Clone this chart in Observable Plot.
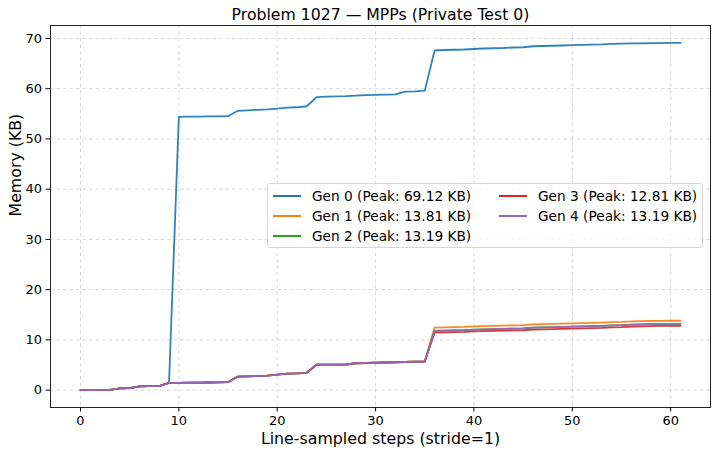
<!DOCTYPE html>
<html><head><meta charset="utf-8">
<script src="https://cdn.jsdelivr.net/npm/d3@7"></script>
<script src="https://cdn.jsdelivr.net/npm/@observablehq/plot@0.6"></script>
<style>
body{margin:0;background:#fff;font-family:"DejaVu Sans",sans-serif;}
#wrap{position:relative;width:718px;height:454px;overflow:hidden;}
#legend{position:absolute;left:267px;top:183px;width:436px;height:65px;border:1px solid #d6d6d6;border-radius:3px;background:rgba(255,255,255,0.8);box-sizing:border-box;}
.item{position:absolute;height:18px;line-height:18px;font-size:13.7px;color:#000;white-space:nowrap;}
.sw{position:absolute;left:0;top:8px;width:28px;height:2px;}
.lt{position:absolute;left:39px;top:0;}
</style>
</head><body>
<div id="wrap"><div id="chart"></div><div id="legend"></div></div>
<script>
const title = "Problem 1027 — MPPs (Private Test 0)";
const xLabel = "Line-sampled steps (stride=1)";
const yLabel = "Memory (KB)";
const gens = ["Gen 0", "Gen 1", "Gen 2", "Gen 3", "Gen 4"];
const peaks = [69.12, 13.81, 13.19, 12.81, 13.19];
const colors = ["#1f77b4", "#ff7f0e", "#2ca02c", "#d62728", "#9467bd"];
const xTicks = [0, 10, 20, 30, 40, 50, 60];
const yTicks = [0, 10, 20, 30, 40, 50, 60, 70];
const steps = [0,1,2,3,4,5,6,7,8,9,10,11,12,13,14,15,16,17,18,19,20,21,22,23,24,25,26,27,28,29,30,31,32,33,34,35,36,37,38,39,40,41,42,43,44,45,46,47,48,49,50,51,52,53,54,55,56,57,58,59,60,61];
const gen0 = [0,0.03,0.05,0.07,0.35,0.4,0.75,0.78,0.8,1.45,
  54.4,54.42,54.45,54.47,54.5,54.52,55.6,55.7,55.8,55.9,56.05,56.25,56.3,56.5,58.3,58.4,58.45,58.5,58.6,58.7,58.75,58.8,58.85,59.4,59.45,59.6,
  67.6,67.7,67.75,67.8,67.9,68.0,68.05,68.1,68.2,68.25,68.45,68.5,68.55,68.6,68.65,68.7,68.75,68.8,68.9,68.95,69.0,69.02,69.05,69.08,69.1,69.12];
const gen1 = [0,0.03,0.05,0.07,0.35,0.4,0.75,0.78,0.8,1.45,
  1.45,1.48,1.5,1.52,1.55,1.58,2.7,2.75,2.8,2.9,3.1,3.3,3.35,3.45,5.05,5.07,5.08,5.1,5.35,5.4,5.45,5.5,5.55,5.6,5.65,5.7,
  12.45,12.5,12.55,12.6,12.7,12.75,12.8,12.85,12.9,12.92,13.1,13.15,13.2,13.25,13.3,13.35,13.4,13.45,13.55,13.6,13.7,13.75,13.78,13.8,13.81,13.81];
const gen2 = [0,0.03,0.05,0.07,0.35,0.4,0.75,0.78,0.8,1.45,
  1.45,1.48,1.5,1.52,1.55,1.58,2.7,2.75,2.8,2.9,3.1,3.3,3.35,3.45,5.05,5.07,5.08,5.1,5.35,5.4,5.45,5.5,5.55,5.6,5.65,5.7,
  11.8,11.85,11.9,11.95,12.05,12.1,12.15,12.2,12.25,12.28,12.45,12.5,12.55,12.6,12.65,12.7,12.75,12.8,12.9,12.95,13.05,13.1,13.15,13.17,13.19,13.19];
const gen3 = [0,0.03,0.05,0.07,0.35,0.4,0.75,0.78,0.8,1.45,
  1.45,1.48,1.5,1.52,1.55,1.58,2.7,2.75,2.8,2.9,3.1,3.3,3.35,3.45,5.05,5.07,5.08,5.1,5.35,5.4,5.45,5.5,5.55,5.6,5.65,5.7,
  11.45,11.5,11.55,11.6,11.7,11.75,11.8,11.85,11.9,11.92,12.05,12.1,12.15,12.2,12.25,12.3,12.35,12.4,12.5,12.55,12.65,12.7,12.75,12.78,12.8,12.81];
const gen4 = [0,0.03,0.05,0.07,0.35,0.4,0.75,0.78,0.8,1.45,
  1.45,1.48,1.5,1.52,1.55,1.58,2.7,2.75,2.8,2.9,3.1,3.3,3.35,3.45,5.05,5.07,5.08,5.1,5.35,5.4,5.45,5.5,5.55,5.6,5.65,5.7,
  11.8,11.85,11.9,11.95,12.05,12.1,12.15,12.2,12.25,12.28,12.45,12.5,12.55,12.6,12.65,12.7,12.75,12.8,12.9,12.95,13.05,13.1,13.15,13.17,13.19,13.19];

const series = [gen0, gen1, gen2, gen3, gen4];
const rows = [];
series.forEach((vals, gi) => vals.forEach((v, i) => rows.push({step: steps[i], mem: v, gen: gens[gi]})));

const font = "DejaVu Sans";
const chart = Plot.plot({
  width: 718, height: 454,
  marginLeft: 50, marginRight: 8, marginTop: 25, marginBottom: 47,
  style: {fontFamily: font, fontSize: "13px", background: "#fff", color: "#000"},
  x: {domain: [-3.05, 64.05], ticks: xTicks, label: null},
  y: {domain: [-3.456, 72.576], ticks: yTicks, label: null},
  color: {domain: gens, range: colors},
  marks: [
    Plot.gridX(xTicks, {stroke: "#b0b0b0", strokeOpacity: 0.55, strokeDasharray: "3.5,3", strokeWidth: 0.9}),
    Plot.gridY(yTicks, {stroke: "#b0b0b0", strokeOpacity: 0.55, strokeDasharray: "3.5,3", strokeWidth: 0.9}),
    Plot.line(rows, {x: "step", y: "mem", z: "gen", stroke: "gen", strokeWidth: 1.8, strokeOpacity: 0.92, curve: "linear"}),
    Plot.frame({stroke: "#222", strokeWidth: 1}),
    Plot.axisX({ticks: xTicks, tickSize: 4.5, tickPadding: 4, label: null, fontSize: 13}),
    Plot.axisY({ticks: yTicks, tickSize: 4.5, tickPadding: 4, label: null, fontSize: 13}),
    Plot.text([title], {frameAnchor: "top", lineAnchor: "middle", dy: -11, fontSize: 15.7, text: d => d, fill: "#000"}),
    Plot.text([xLabel], {frameAnchor: "bottom", lineAnchor: "middle", dy: 31, fontSize: 15.8, text: d => d, fill: "#000"}),
    Plot.text([yLabel], {frameAnchor: "left", lineAnchor: "middle", dx: -35, rotate: -90, fontSize: 15.8, text: d => d, fill: "#000"})
  ]
});
document.getElementById("chart").appendChild(chart);

const legend = document.getElementById("legend");
const pos = [[5, 3], [5, 23], [5, 43], [231, 3], [231, 23]];
gens.forEach((g, i) => {
  const it = document.createElement("div");
  it.className = "item";
  it.style.left = pos[i][0] + "px";
  it.style.top = pos[i][1] + "px";
  const sw = document.createElement("div");
  sw.className = "sw";
  sw.style.background = colors[i];
  const t = document.createElement("div");
  t.className = "lt";
  t.textContent = `${g} (Peak: ${peaks[i].toFixed(2)} KB)`;
  it.appendChild(sw); it.appendChild(t);
  legend.appendChild(it);
});
</script>
</body></html>
